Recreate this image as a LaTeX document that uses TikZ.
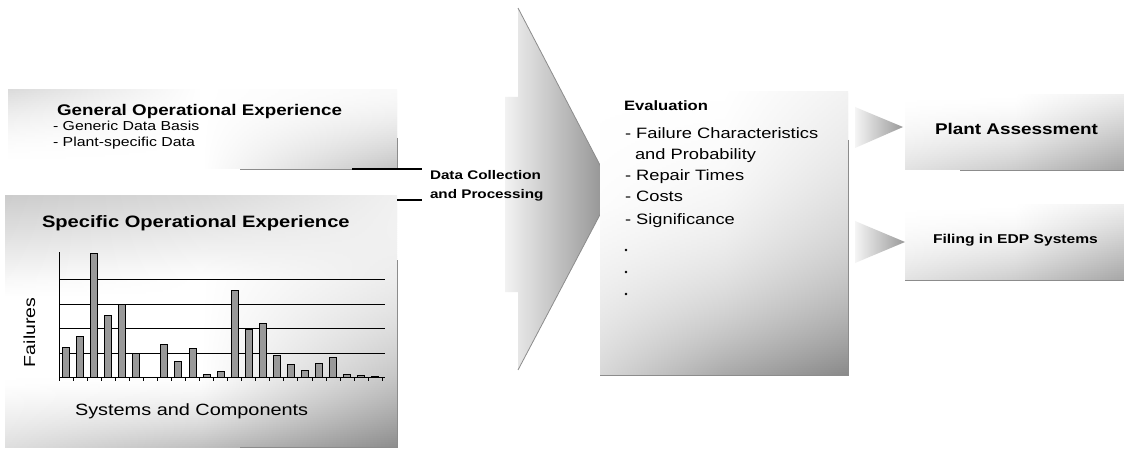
\documentclass[tikz,border=0pt]{standalone}
\usepackage{fontspec}
\setmainfont{Liberation Sans}[FakeStretch=1.22]
\colorlet{cA}{white}\colorlet{cB}{white}\colorlet{cC}{white}\colorlet{cD}{white}\colorlet{cE}{white}
\pgfdeclarehorizontalshading[cA,cB,cC,cD,cE]{bandshade}{100bp}{color(0bp)=(cA); color(15bp)=(cB); color(50bp)=(cC); color(80bp)=(cD); color(100bp)=(cE)}
\newcommand\rowcolors[5]{\colorlet{cA}{black!#1}\colorlet{cB}{black!#2}\colorlet{cC}{black!#3}\colorlet{cD}{black!#4}\colorlet{cE}{black!#5}}
\begin{document}
\begin{tikzpicture}[x=1pt,y=-1pt,
  txt/.style={anchor=base west, inner sep=0pt, outer sep=0pt},
  bar/.style={fill=black!40, draw=black, line width=0.9pt},
  grid/.style={draw=black, line width=1pt},
  edge/.style={draw=black!45, line width=0.8pt},
  joint/.style={draw=black, line width=1.6pt}]
\fill[white] (0,0) rectangle (1124,449);
\useasboundingbox (0,0) rectangle (1124,449);

% ---------- General band ----------
\foreach \yy in {90,92,...,168}{
  \pgfmathsetmacro\tv{(\yy-90)/79}
  \pgfmathsetmacro\va{35*(1-\tv)*(1-\tv)}
  \pgfmathsetmacro\vb{20*(1-\tv)*(1-\tv)}
  \pgfmathsetmacro\vd{28*\tv*sqrt(\tv)+3*(1-\tv)}
  \pgfmathsetmacro\ve{8+47*\tv}
  \rowcolors{\va}{\vb}{0}{\vd}{\ve}
  \shade[shading=bandshade] (8,\yy) rectangle (397,{min(\yy+2.6,169)});
}
\draw[edge] (397,138) -- (397,169) -- (240,169);

% ---------- Specific band ----------
\foreach \yy in {196,198,...,446}{
  \pgfmathsetmacro\tv{(\yy-196)/251}
  \pgfmathsetmacro\pa{max(0,(\tv-0.75)/0.25)}
  \pgfmathsetmacro\pb{max(0,(\tv-0.7)/0.3)}
  \pgfmathsetmacro\va{38-15*\tv}
  \pgfmathsetmacro\vb{max(0,22*(1-2.5*\tv))+8*\pa}
  \pgfmathsetmacro\vc{max(0,15*(1-3*\tv))+25*\pb*sqrt(\pb)}
  \pgfmathsetmacro\vd{4+45*\tv*\tv}
  \pgfmathsetmacro\ve{8+52*\tv*sqrt(\tv)}
  \rowcolors{\va}{\vb}{\vc}{\vd}{\ve}
  \shade[shading=bandshade] (5,\yy) rectangle (397,{min(\yy+2.6,447)});
}
\draw[edge] (397,260) -- (397,447) -- (240,447);

% ---------- Data collection arrow ----------
\shade[left color=black!5, right color=black!45]
  (518,8) -- (613,190) -- (518,370) -- (518,292) -- (505,292) -- (505,97) -- (518,97) -- cycle;
\draw[draw=black!45, line width=0.8pt] (518,8) -- (613,190) -- (518,370);

% ---------- Evaluation box ----------
\foreach \yy in {92,94,...,374}{
  \pgfmathsetmacro\tv{(\yy-92)/283}
  \pgfmathsetmacro\va{16*max(0,(\tv-0.3)/0.7)}
  \pgfmathsetmacro\vb{8*max(0,(\tv-0.4)/0.6)}
  \pgfmathsetmacro\vc{6*\tv+28*\tv*\tv*\tv}
  \pgfmathsetmacro\vd{6+18*\tv+25*\tv*\tv*\tv}
  \pgfmathsetmacro\ve{18+42*\tv}
  \rowcolors{\va}{\vb}{\vc}{\vd}{\ve}
  \shade[shading=bandshade] (600,\yy) rectangle (848,{min(\yy+2.6,375)});
}
\draw[edge] (848,140) -- (848,375) -- (600,375);

% ---------- Output arrows and bands ----------
\shade[left color=black!4, right color=black!40] (855,107) -- (903,127) -- (855,148) -- cycle;
\shade[left color=black!4, right color=black!40] (855,221) -- (905,242) -- (855,263) -- cycle;
\foreach \yo in {95,205}{
  \foreach \dy in {0,2,...,74}{
    \pgfmathsetmacro\tv{\dy/75}
    \pgfmathsetmacro\va{5*\tv*\tv}
    \pgfmathsetmacro\vb{8*\tv*\tv}
    \pgfmathsetmacro\vc{20*\tv*sqrt(\tv)}
    \pgfmathsetmacro\vd{8+30*\tv}
    \pgfmathsetmacro\ve{15+38*\tv}
    \rowcolors{\va}{\vb}{\vc}{\vd}{\ve}
    \shade[shading=bandshade] (905,\yo+\dy) rectangle (1124,{min(\yo+\dy+2.6,\yo+75)});
  }
}
\draw[edge] (960,170) -- (1124,170);
\draw[edge] (905,280) -- (1124,280);

% ---------- Joints to data collection ----------
\coordinate (j1a) at (352,169);
\coordinate (j1b) at (422,169);
\coordinate (j2a) at (397,200);
\coordinate (j2b) at (422,200);
\draw[joint] (j1a) -- (j1b);
\draw[joint] (j2a) -- (j2b);

% ---------- Chart ----------
\foreach \yy in {279,304,328,353} \draw[grid] (59,\yy) -- (385,\yy);
\foreach \i/\t in {0/347,1/336,2/253,3/315,4/304,5/353,7/344,8/361,9/348,10/374,11/371,12/290,13/329,14/323,15/355,16/364,17/370,18/363,19/357,20/374,21/375,22/376}
  \draw[bar] ({66+14.05*\i-3.5},377) rectangle ({66+14.05*\i+3.5},\t);
\draw[grid] (59,252) -- (59,377) -- (385,377);
\foreach \k in {0,...,23} \draw[black, line width=0.8pt] ({59+14.05*\k},377) -- ({59+14.05*\k},381);

% ---------- Texts ----------
\node[txt, font=\fontsize{15.4}{18}\selectfont\bfseries] (gen) at (57,116) {General Operational Experience};
\node[txt, font=\fontsize{13}{15}\selectfont] (gen1) at (53,131) {- Generic Data Basis};
\node[txt, font=\fontsize{13}{15}\selectfont] (gen2) at (53,147) {- Plant-specific Data};
\node[txt, font=\fontsize{16.5}{19}\selectfont\bfseries] (spec) at (42,227) {Specific Operational Experience};
\node[txt, font=\fontsize{16}{19}\selectfont, rotate=90] (fail) at (35,367) {Failures};
\node[txt, font=\fontsize{16.3}{19}\selectfont] (sys) at (75,415) {Systems and Components};
\node[txt, font=\fontsize{12.5}{15}\selectfont\bfseries] (dc1) at (430,180) {Data Collection};
\node[txt, font=\fontsize{12.5}{15}\selectfont\bfseries] (dc2) at (430,199) {and Processing};
\node[txt, font=\fontsize{13.6}{16}\selectfont\bfseries] (ev) at (624,111) {Evaluation};
\node[txt, font=\fontsize{15}{18}\selectfont] (ev1) at (625,139) {- Failure Characteristics};
\node[txt, font=\fontsize{15}{18}\selectfont] (ev2) at (635,160) {and Probability};
\node[txt, font=\fontsize{15}{18}\selectfont] (ev3) at (625,181) {- Repair Times};
\node[txt, font=\fontsize{15}{18}\selectfont] (ev4) at (625,202) {- Costs};
\node[txt, font=\fontsize{15}{18}\selectfont] (ev5) at (625,224) {- Significance};
\foreach \yy in {250,272,294} \fill (626,\yy) circle (1.4pt);
\node[txt, font=\fontsize{15.5}{18}\selectfont\bfseries] (pa) at (935,135) {Plant Assessment};
\node[txt, font=\fontsize{12.8}{15}\selectfont\bfseries] (edp) at (933,243) {Filing in EDP Systems};
\end{tikzpicture}
\end{document}
